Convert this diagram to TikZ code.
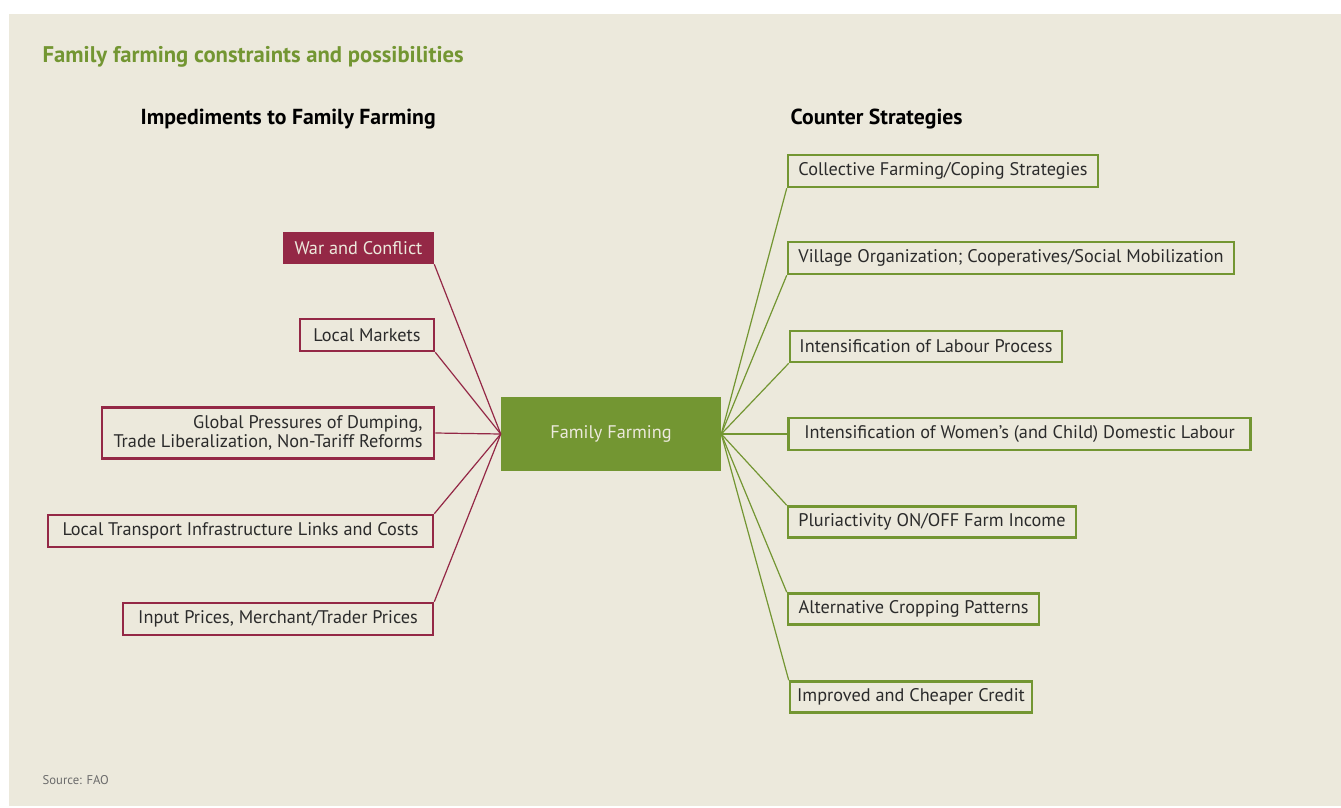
\documentclass[tikz,border=0pt]{standalone}
\usepackage{fontspec}
\setmainfont{PT Sans}
\definecolor{paper}{HTML}{ECE9DC}
\definecolor{crimson}{HTML}{942846}
\definecolor{leaf}{HTML}{739632}
\definecolor{ink}{HTML}{2B2B2B}
\begin{document}
\begin{tikzpicture}
    [%%%%%%%%%%%%%%%%%%%%%%%%%%%%%%
        x=0.75pt, y=-0.75pt,
        every node/.style={font=\fontsize{13.7}{14.5}\selectfont, text=ink},
        box/.style={rectangle, line width=1.9pt, fill=paper, inner sep=0pt},
        imp/.style={box, draw=crimson},
        impfill/.style={box, draw=crimson, fill=crimson, text=paper},
        strat/.style={box, draw=leaf},
        hub/.style={rectangle, fill=leaf, text=paper, minimum width=165pt, minimum height=55.5pt},
        impline/.style={draw=crimson, line width=0.9pt},
        stratline/.style={draw=leaf, line width=0.9pt},
        heading/.style={font=\fontsize{16.3}{18}\selectfont\bfseries, text=black, anchor=west},
    ]%%%%%%%%%%%%%%%%%%%%%%%%%%%%%%
\useasboundingbox (0,0) rectangle (1341,807);
\fill[white] (0,0) rectangle (1341,807);
\fill[paper] (9,14) rectangle (1341,806);
\node[heading, text=leaf, font=\fontsize{17}{19}\selectfont\bfseries] (title) at (38,57) {Family farming constraints and possibilities};
\node[heading] (lefthead) at (136,119) {Impediments to Family Farming};
\node[heading] (righthead) at (786,119) {Counter Strategies};
\node[anchor=west, font=\fontsize{9.5}{10}\selectfont, text=ink!70] (source) at (38,780) {Source: FAO};
% centre
\node[hub] (ff) at (611,434) {Family Farming};
% impediments
\node[impfill, minimum width=111.75pt, minimum height=22.5pt] (war) at (358.5,248) {War and Conflict};
\node[imp, minimum width=100.5pt, minimum height=24pt] (markets) at (367,335) {Local Markets};
\node[imp, minimum width=249pt, minimum height=38.25pt, align=right] (global) at (268,433) {Global Pressures of Dumping,\\Trade Liberalization, Non-Tariff Reforms};
\node[imp, minimum width=288.75pt, minimum height=24pt] (transport) at (240.5,531) {Local Transport Infrastructure Links and Costs};
\node[imp, minimum width=232.5pt, minimum height=24pt] (input) at (278,619) {Input Prices, Merchant/Trader Prices};
% strategies
\node[strat, minimum width=232.5pt, minimum height=24pt] (collective) at (943,171) {Collective Farming/Coping Strategies};
\node[strat, minimum width=334.5pt, minimum height=24pt] (village) at (1011,258) {Village Organization; Cooperatives/Social Mobilization};
\node[strat, minimum width=204pt, minimum height=23.25pt] (labour) at (926,346.5) {Intensification of Labour Process};
\node[strat, minimum width=346.5pt, minimum height=24pt] (women) at (1019.5,434) {Intensification of Women’s (and Child) Domestic Labour};
\node[strat, minimum width=216pt, minimum height=23.25pt] (pluri) at (932,522) {Pluriactivity ON/OFF Farm Income};
\node[strat, minimum width=188.25pt, minimum height=23.25pt] (altern) at (913.5,609) {Alternative Cropping Patterns};
\node[strat, minimum width=181.5pt, minimum height=23.25pt] (credit) at (911,697) {Improved and Cheaper Credit};
% connectors
\draw[impline] (war.south east) -- (ff.west);
\draw[impline] (markets.south east) -- (ff.west);
\draw[impline] (global.east) -- (ff.west);
\draw[impline] (transport.north east) -- (ff.west);
\draw[impline] (input.north east) -- (ff.west);
\draw[stratline] (collective.south west) -- (ff.east);
\draw[stratline] (village.south west) -- (ff.east);
\draw[stratline] (labour.south west) -- (ff.east);
\draw[stratline] (women.west) -- (ff.east);
\draw[stratline] (pluri.north west) -- (ff.east);
\draw[stratline] (altern.north west) -- (ff.east);
\draw[stratline] (credit.north west) -- (ff.east);
\end{tikzpicture}
\end{document}
